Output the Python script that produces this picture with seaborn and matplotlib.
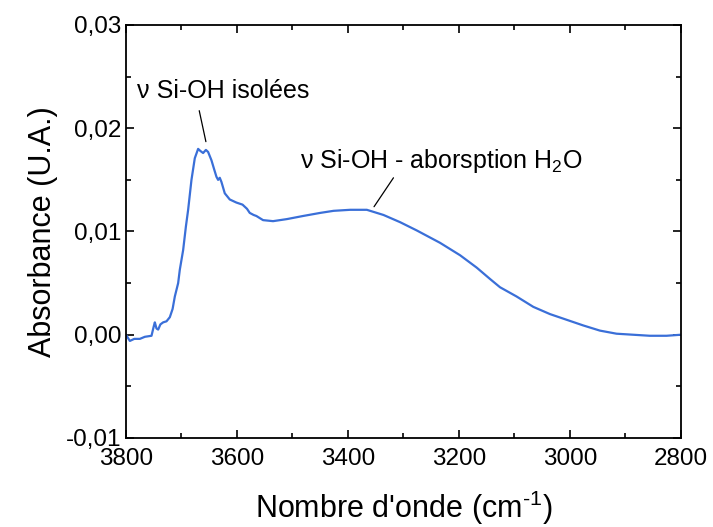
import pandas as pd
import seaborn as sns
import matplotlib.pyplot as plt
from matplotlib.ticker import MultipleLocator, FuncFormatter

nombre_onde = [3800, 3793, 3785, 3775, 3766, 3754, 3750, 3748, 3745, 3742, 3738, 3733,
               3727, 3721, 3716, 3712, 3706, 3703, 3697, 3692, 3688, 3682, 3676, 3670,
               3666, 3661, 3656, 3652, 3646, 3641, 3637, 3634, 3631, 3628, 3622, 3613,
               3601, 3590, 3586, 3582, 3577, 3570, 3565, 3553, 3535, 3510, 3481, 3450,
               3426, 3396, 3366, 3336, 3306, 3276, 3234, 3198, 3168, 3144, 3126, 3096,
               3066, 3036, 3006, 2976, 2946, 2916, 2886, 2856, 2826, 2800]
absorbance = [0.0000, -0.0006, -0.0004, -0.0004, -0.0002, -0.0001, 0.0008, 0.0012, 0.0006,
              0.0005, 0.0010, 0.0012, 0.0013, 0.0017, 0.0025, 0.0037, 0.0050, 0.0063,
              0.0082, 0.0105, 0.0121, 0.0150, 0.0171, 0.0180, 0.0178, 0.0176, 0.0179,
              0.0177, 0.0169, 0.0160, 0.0153, 0.0150, 0.0152, 0.0148, 0.0137, 0.0131,
              0.0128, 0.0126, 0.0124, 0.0122, 0.0118, 0.0116, 0.0115, 0.0111, 0.0110,
              0.0112, 0.0115, 0.0118, 0.0120, 0.0121, 0.0121, 0.0116, 0.0109, 0.0101,
              0.0089, 0.0077, 0.0065, 0.0054, 0.0046, 0.0037, 0.0027, 0.0020, 0.00145,
              0.0009, 0.0004, 0.0001, 0.0000, -0.0001, -0.0001, 0.0000]

# Annotations : texte, position du texte, trait (début, fin)
labels = ['ν Si-OH isolées', 'ν Si-OH - aborsption H$_2$O']
label_pos = [(3780, 0.0236), (3486, 0.0168)]
trait_debut = [(3668, 0.0217), (3318, 0.0152)]
trait_fin = [(3656, 0.0187), (3353, 0.0124)]

df = pd.DataFrame({'nombre_onde': nombre_onde, 'absorbance': absorbance})

sns.set_style('ticks')
plt.rcParams['font.family'] = ['Liberation Sans', 'DejaVu Sans']
plt.rcParams['mathtext.fontset'] = 'custom'
plt.rcParams['mathtext.rm'] = 'Liberation Sans'
plt.rcParams['mathtext.it'] = 'Liberation Sans'
plt.rcParams['text.color'] = 'black'
plt.rcParams['axes.labelcolor'] = 'black'

fig = plt.figure(figsize=(7.13, 5.27), dpi=100)
ax = fig.add_axes([0.1767, 0.1689, 0.7783, 0.7837])

sns.lineplot(data=df, x='nombre_onde', y='absorbance', ax=ax, color='#3a6fd8',
             linewidth=1.6, sort=False)

ax.set_xlim(3800, 2800)
ax.set_ylim(-0.01, 0.03)
ax.xaxis.set_major_locator(MultipleLocator(200))
ax.xaxis.set_minor_locator(MultipleLocator(100))
ax.yaxis.set_major_locator(MultipleLocator(0.01))
ax.yaxis.set_minor_locator(MultipleLocator(0.005))
ax.yaxis.set_major_formatter(FuncFormatter(lambda v, p: f'{v:.2f}'.replace('.', ',')))
ax.tick_params(which='both', direction='in', top=True, right=True, width=1.2,
               labelsize=17.5, colors='black')
ax.tick_params(which='major', length=6)
ax.tick_params(which='minor', length=3.5)
ax.tick_params(axis='x', pad=7)
ax.tick_params(axis='y', pad=3)
for s in ax.spines.values():
    s.set_linewidth(1.3)
    s.set_color('black')

ax.set_xlabel("Nombre d'onde (cm$^{\\text{-1}}$)", fontsize=22, labelpad=14)
ax.set_ylabel('Absorbance (U.A.)', fontsize=22, labelpad=6)

for txt, pos, d, f in zip(labels, label_pos, trait_debut, trait_fin):
    ax.text(pos[0], pos[1], txt, fontsize=18, va='center', ha='left')
    ax.annotate('', xy=f, xytext=d,
                arrowprops=dict(arrowstyle='-', color='black', lw=0.9,
                                shrinkA=0, shrinkB=0))

fig.savefig('out.png', dpi=100)
